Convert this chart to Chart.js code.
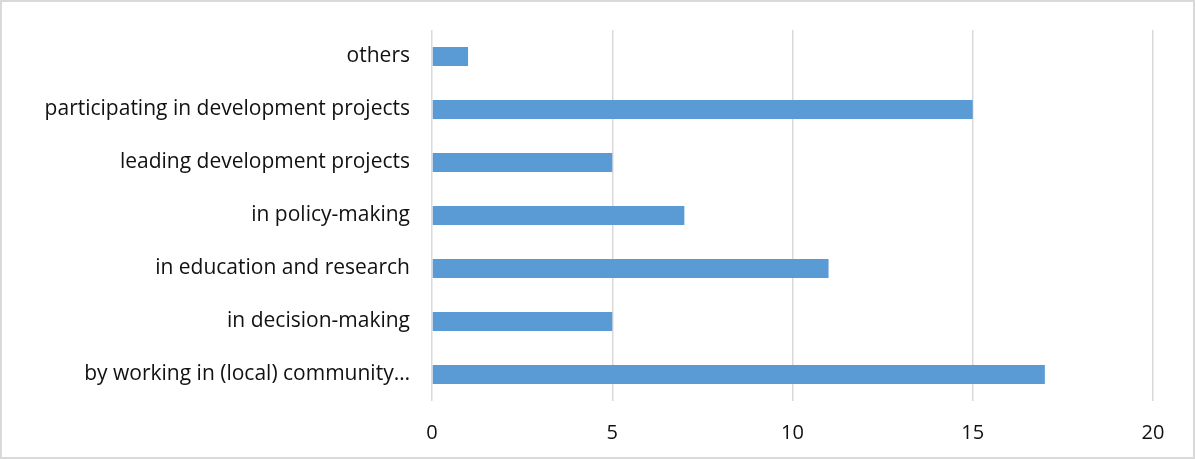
<!DOCTYPE html>
<html>
<head>
<meta charset="utf-8">
<script src="https://cdn.jsdelivr.net/npm/chart.js@4"></script>
<style>
    html, body { margin: 0; padding: 0; background: #fff; }
    #wrap {
        position: relative;
        width: 1195px;
        height: 459px;
        box-sizing: border-box;
        border: 2px solid #d9d9d9;
    }
    canvas { display: block; }
</style>
</head>
<body>
<div id="wrap"><canvas id="chart" width="1191" height="455"></canvas></div>
<script>
// Chart data
const categories = [
    'others',
    'participating in development projects',
    'leading development projects',
    'in policy-making',
    'in education and research',
    'in decision-making',
    'by working in (local) community…'
];
const counts = [1, 15, 5, 7, 11, 5, 17];
const xTicks = [0, 5, 10, 15, 20];

const textColor = '#111111';
const gridColor = '#d9d9d9';
const barColor = '#5b9bd5';

const ctx = document.getElementById('chart').getContext('2d');

new Chart(ctx, {
    type: 'bar',
    data: {
        labels: categories,
        datasets: [{
            data: counts,
            backgroundColor: barColor,
            borderWidth: 0,
            categoryPercentage: 1,
            barPercentage: 0.36
        }]
    },
    options: {
        indexAxis: 'y',
        responsive: false,
        animation: false,
        layout: { padding: { top: 28, right: 40, bottom: 0, left: 0 } },
        plugins: {
            legend: { display: false },
            tooltip: { enabled: false }
        },
        scales: {
            x: {
                min: 0,
                max: 20,
                afterBuildTicks: (scale) => {
                    scale.ticks = xTicks.map(v => ({ value: v }));
                },
                grid: { color: gridColor, lineWidth: 1.5, drawTicks: false },
                border: { display: false },
                ticks: {
                    color: textColor,
                    padding: 20,
                    font: { family: 'Open Sans', size: 20 }
                },
                afterFit: (scale) => { scale.height = 56; }
            },
            y: {
                grid: { display: false },
                border: { display: false },
                ticks: {
                    color: textColor,
                    padding: 14,
                    font: { family: 'Open Sans', size: 21 }
                },
                afterFit: (scale) => { scale.width = 430; }
            }
        }
    }
});
</script>
</body>
</html>
